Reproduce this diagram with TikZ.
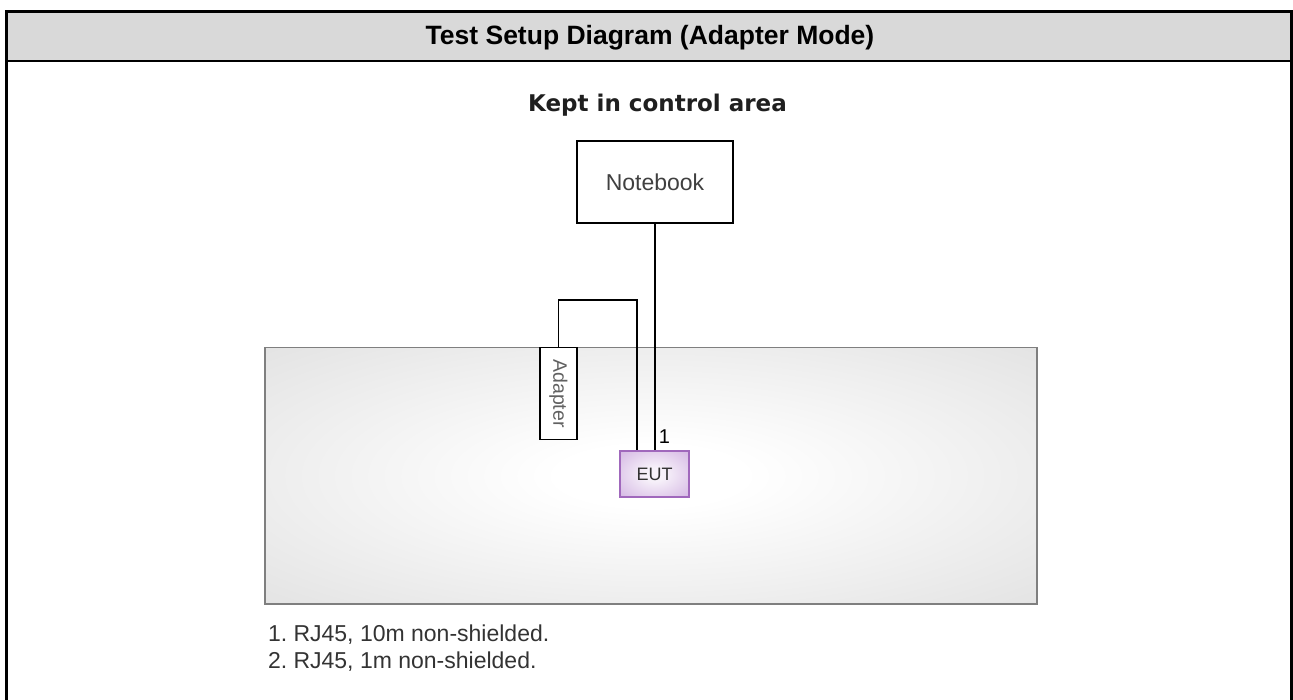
\documentclass[tikz,border=0pt]{standalone}
\usepackage{fontspec}
\setmainfont{Liberation Sans}
\newfontfamily\keptfont{DejaVu Sans}
\frenchspacing
\definecolor{headgray}{HTML}{D9D9D9}
\definecolor{areaedge}{HTML}{D6D6D6}
\definecolor{areacorner}{HTML}{CACACA}
\definecolor{areaborder}{HTML}{7F7F7F}
\definecolor{eutedge}{HTML}{C39AD8}
\definecolor{eutcorner}{HTML}{B889CF}
\definecolor{eutborder}{HTML}{A068BC}
\definecolor{txtgray}{HTML}{333333}
\pgfdeclareradialshading{areashade}{\pgfpoint{0bp}{0bp}}{color(0bp)=(white); color(6bp)=(white); color(50bp)=(areaedge); color(71bp)=(areacorner)}
\pgfdeclareradialshading{eutshade}{\pgfpoint{0bp}{0bp}}{color(0bp)=(white!90!eutedge); color(8bp)=(white!85!eutedge); color(50bp)=(eutedge); color(71bp)=(eutcorner)}
\tikzset{
  cable/.style={line width=1.6pt, black},
  boxnode/.style={draw=black, line width=1.6pt, fill=white, inner sep=0pt},
  eutbox/.style={draw=eutborder, line width=1.6pt, shading=eutshade, inner sep=0pt},
  plain/.style={inner sep=0pt, outer sep=0pt}
}
\begin{document}
\begin{tikzpicture}[x=1pt, y=-1pt]
\useasboundingbox (0,0) rectangle (1293,700);
% frame and header
\fill[headgray] (6.5,11.5) rectangle (1291.5,61);
\draw[line width=3pt] (6.5,700) -- (6.5,11.5) -- (1291.5,11.5) -- (1291.5,700);
\draw[line width=2.5pt] (6.5,61) -- (1291.5,61);
\node[plain, anchor=base, font=\bfseries\fontsize{26.5}{30}\selectfont] (title) at (650,45) {Test Setup Diagram (Adapter Mode)};
\node[plain, anchor=base, text=black!88, font=\keptfont\bfseries\fontsize{23}{27}\selectfont] (kept) at (657.5,112) {Kept in control area};
% control area
\path[draw=areaborder, line width=1.5pt, shading=areashade] (265,347.5) rectangle (1037,604);
% boxes
\node[boxnode, minimum width=156pt, minimum height=82pt, text=black!75, font=\fontsize{23}{27}\selectfont] (nb) at (655,182) {Notebook};
\node[boxnode, minimum width=37pt, minimum height=92pt] (ad) at (558.5,393.5) {};
\node[plain, rotate=-90, text=black!62, font=\fontsize{19.5}{23}\selectfont] (adtxt) at (ad.center) {Adapter};
\node[eutbox, minimum width=69pt, minimum height=46pt, text=txtgray, font=\fontsize{18}{21}\selectfont] (eut) at (654.5,474) {EUT};
% cables
\coordinate (bend) at (637,300);
\draw[cable] (nb.south) -- (nb.south |- eut.north);
\draw[cable] (ad.north) |- (bend) -- (bend |- eut.north);
\node[plain, font=\fontsize{20}{24}\selectfont] (lbl1) at (664.5,437) {1};
% notes
\node[plain, anchor=base west, text=txtgray, font=\fontsize{23}{26}\selectfont] (note1) at (268,641.7) {1. RJ45, 10m non-shielded.};
\node[plain, anchor=base west, text=txtgray, font=\fontsize{23}{26}\selectfont] (note2) at (268,668) {2. RJ45, 1m non-shielded.};
\end{tikzpicture}
\end{document}
